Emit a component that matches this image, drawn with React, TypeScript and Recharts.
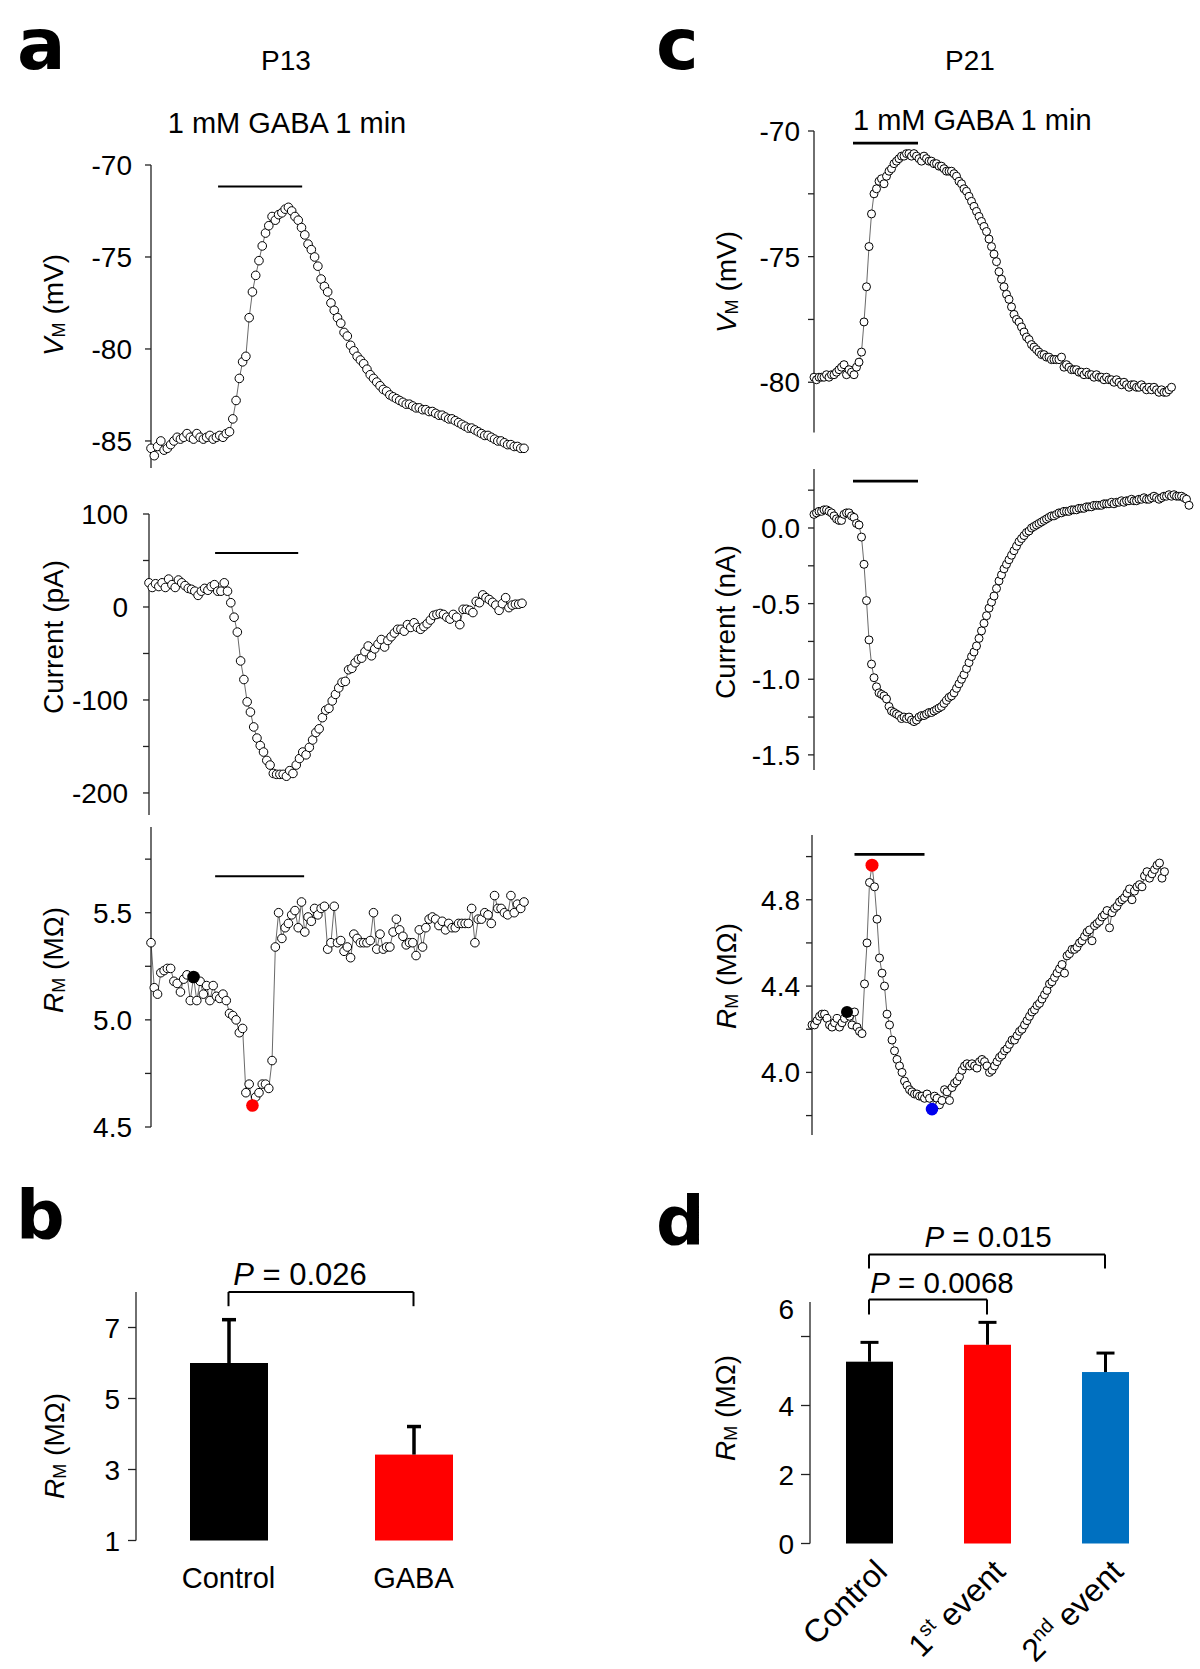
import React from 'react'
import { ComposedChart, Line, Scatter, XAxis, YAxis, ReferenceLine, BarChart, Bar } from 'recharts'

const FONT = '"Liberation Sans", Arial, Helvetica, sans-serif'
const LETTER_FONT = '"DejaVu Sans", "Liberation Sans", Arial, sans-serif'

// ---- panel a (P13): one sample per index, same time base for all three traces
const VM_A = [
  -85.4, -85.8, -85.3, -85.0, -85.5, -85.4, -85.2, -85.0, -84.8, -84.9,
  -84.8, -84.6, -84.8, -84.9, -84.6, -84.8, -84.9, -84.8, -84.7, -84.9,
  -84.8, -84.7, -84.8, -84.6, -84.5, -83.8, -82.8, -81.6, -80.7, -80.4,
  -78.3, -76.9, -76.0, -75.2, -74.4, -73.7, -73.3, -72.8, -73.0, -72.7,
  -72.6, -72.4, -72.3, -72.5, -72.8, -73.0, -73.4, -73.8, -74.3, -74.6,
  -75.0, -75.5, -76.2, -76.6, -76.9, -77.5, -77.9, -78.3, -78.6, -79.1,
  -79.3, -79.8, -80.1, -80.4, -80.6, -80.8, -81.1, -81.4, -81.6, -81.8,
  -82.0, -82.2, -82.3, -82.5, -82.6, -82.7, -82.8, -82.9, -83.0, -83.0,
  -83.1, -83.2, -83.2, -83.3, -83.3, -83.4, -83.4, -83.5, -83.6, -83.6,
  -83.7, -83.8, -83.8, -83.9, -84.0, -84.1, -84.2, -84.3, -84.3, -84.4,
  -84.5, -84.6, -84.7, -84.7, -84.8, -84.9, -85.0, -85.0, -85.1, -85.2,
  -85.2, -85.3, -85.3, -85.4, -85.4,
]

const I_A = [
  26, 21, 25, 22, 26, 21, 30, 24, 21, 29,
  26, 23, 20, 19, 17, 12.5, 17, 20, 18, 22,
  24, 17, 17, 26, 17,
  4.6, -11, -27, -58, -78, -102, -113, -129, -141, -149,
  -156, -165, -170, -179, -180, -180, -180, -182, -176, -179,
  -170, -163, -156, -159, -151, -143, -135, -131, -119, -111,
  -109, -101, -94, -87, -81, -80, -67.5, -66, -60, -56,
  -55, -48, -42, -52.5, -45, -40, -35, -43, -36, -32,
  -28, -24, -24, -26, -19, -22, -17, -22, -24, -21,
  -18, -14, -9, -8, -7, -8, -11, -13, -8, -11,
  -19, -2.5, -2.5, -3.6, -6, 6, 4.6, 13, 10, 8,
  5, 2, -3.6, 3.6, 10, -0.7, 2, 3, 3, 4,
]

const RM_A = [
  5.36, 5.15, 5.12, 5.22, 5.23, 5.24, 5.24, 5.18, 5.17, 5.13,
  5.19, 5.21, 5.09, 5.20, 5.09, 5.18, 5.12, 5.16, 5.09, 5.16,
  5.11, 5.10, 5.12, 5.09, 5.03, 5.02, 5.00, 4.94, 4.96, 4.66,
  4.70, 4.60, 4.64, 4.66, 4.70, 4.70, 4.68, 4.81, 5.34, 5.50,
  5.38, 5.43, 5.45, 5.49, 5.51, 5.43, 5.55, 5.41, 5.48, 5.46,
  5.52, 5.49, 5.52, 5.53, 5.33, 5.36, 5.53, 5.36, 5.37, 5.32,
  5.34, 5.29, 5.40, 5.38, 5.36, 5.36, 5.36, 5.37, 5.50, 5.33,
  5.40, 5.33, 5.34, 5.34, 5.41, 5.47, 5.42, 5.39, 5.35, 5.36,
  5.36, 5.30, 5.42, 5.34, 5.43, 5.47, 5.48, 5.47, 5.44, 5.46,
  5.42, 5.45, 5.43, 5.43, 5.45, 5.45, 5.45, 5.45, 5.52, 5.36,
  5.47, 5.47, 5.50, 5.49, 5.45, 5.58, 5.52, 5.52, 5.50, 5.49,
  5.58, 5.50, 5.54, 5.52, 5.55,
]
const RM_A_CONTROL = 13
const RM_A_GABA = 31

// GABA application bars: [start sample, end sample, level]
const STIM_VM_A = [20.5, 46.2, -71.17]
const STIM_I_A = [20.2, 45.6, 58]
const STIM_RM_A = [19.6, 46.8, 5.67]

// ---- panel c (P21)
const VM_C = [
  -79.8, -79.9, -79.8, -79.8, -79.8, -79.7, -79.8, -79.7, -79.7, -79.6,
  -79.5, -79.4, -79.3, -79.7, -79.5, -79.6, -79.7, -79.4, -79.2, -78.8,
  -77.6, -76.2, -74.6, -73.3, -72.5, -72.3, -72.0, -71.9, -72.1, -71.8,
  -71.6, -71.5, -71.3, -71.2, -71.1, -71.0, -71.0, -70.9, -70.9, -71.0,
  -70.9, -71.0, -71.1, -71.2, -71.0, -71.1, -71.2, -71.2, -71.3, -71.3,
  -71.4, -71.4, -71.5, -71.6, -71.6, -71.6, -71.7, -71.8, -72.0, -72.1,
  -72.3, -72.4, -72.6, -72.8, -73.0, -73.2, -73.4, -73.6, -73.8, -74.0,
  -74.3, -74.6, -74.9, -75.2, -75.6, -75.9, -76.2, -76.5, -76.7, -77.0,
  -77.3, -77.5, -77.6, -77.8, -78.0, -78.2, -78.3, -78.5, -78.6, -78.7,
  -78.8, -78.9, -78.9, -79.0, -79.0, -79.1, -79.1, -79.1, -79.1, -79.0,
  -79.4, -79.3, -79.4, -79.5, -79.5, -79.5, -79.6, -79.6, -79.7, -79.6,
  -79.7, -79.7, -79.8, -79.7, -79.8, -79.8, -79.9, -79.8, -79.9, -79.9,
  -80.0, -79.9, -80.0, -80.1, -80.0, -80.1, -80.2, -80.1, -80.1, -80.2,
  -80.2, -80.1, -80.2, -80.3, -80.2, -80.3, -80.2, -80.3, -80.4, -80.3,
  -80.4, -80.4, -80.3, -80.2,
]

const I_C = [
  0.09, 0.10, 0.11, 0.11, 0.12, 0.12, 0.11, 0.10, 0.08, 0.06,
  0.05, 0.05, 0.09, 0.10, 0.10, 0.08, 0.07, 0.03, 0.02,
  -0.06, -0.24, -0.48, -0.74, -0.90, -0.99, -1.05, -1.09, -1.10, -1.11,
  -1.13, -1.18, -1.21, -1.22, -1.23, -1.24, -1.26, -1.25, -1.26, -1.25,
  -1.27, -1.28, -1.27, -1.25, -1.24, -1.24, -1.23, -1.22, -1.22, -1.21,
  -1.20, -1.19, -1.18, -1.16, -1.14, -1.12, -1.11, -1.09, -1.06, -1.03,
  -1.00, -0.97, -0.93, -0.89, -0.85, -0.82, -0.78, -0.73, -0.68, -0.63,
  -0.58, -0.53, -0.49, -0.45, -0.40, -0.35, -0.31, -0.27, -0.24, -0.21,
  -0.18, -0.15, -0.12, -0.09, -0.07, -0.05, -0.03, -0.02, 0.00, 0.01,
  0.02, 0.03, 0.04, 0.05, 0.06, 0.07, 0.08, 0.08, 0.09, 0.10,
  0.10, 0.11,
  0.11, 0.11, 0.12, 0.12, 0.12, 0.13, 0.13, 0.13, 0.14, 0.14,
  0.14, 0.15, 0.15, 0.15, 0.15, 0.16, 0.16, 0.16, 0.17, 0.16,
  0.17, 0.17, 0.18, 0.17, 0.18, 0.18, 0.19, 0.18, 0.18, 0.19,
  0.19, 0.20, 0.19, 0.19, 0.20, 0.21, 0.20, 0.19, 0.20, 0.21,
  0.21, 0.22, 0.21, 0.22, 0.21, 0.21, 0.21, 0.20, 0.19, 0.15,
]

const RM_C = [
  4.22, 4.22, 4.24, 4.26, 4.27, 4.27, 4.25, 4.22, 4.21, 4.23,
  4.25, 4.21, 4.23, 4.25, 4.28, 4.26, 4.22, 4.28, 4.21, 4.19,
  4.18, 4.41, 4.60, 4.88, 4.96, 4.86, 4.71, 4.53, 4.46, 4.40,
  4.27, 4.22, 4.15, 4.10, 4.06, 4.03, 4.00, 3.96, 3.94, 3.92,
  3.91, 3.90, 3.90, 3.89, 3.89, 3.88, 3.90, 3.88, 3.83, 3.89,
  3.88, 3.85, 3.87, 3.92, 3.91, 3.87, 3.93, 3.95, 3.96, 3.98,
  4.01, 4.03, 4.04, 4.03, 4.04, 4.03, 4.02, 4.05, 4.06, 4.05,
  4.03, 4.00, 4.01, 4.03, 4.05, 4.07, 4.08, 4.10, 4.11, 4.13,
  4.15, 4.15, 4.17, 4.19, 4.20, 4.22, 4.24, 4.26, 4.28, 4.29,
  4.31, 4.32, 4.34, 4.36, 4.38, 4.41, 4.42, 4.44, 4.46, 4.48,
  4.50, 4.46, 4.54, 4.55, 4.57, 4.57, 4.58, 4.60, 4.61, 4.63,
  4.65, 4.66, 4.61, 4.68, 4.69, 4.70, 4.72, 4.73, 4.75, 4.67,
  4.74, 4.76, 4.77, 4.79, 4.80, 4.81, 4.83, 4.85, 4.80, 4.84,
  4.86, 4.87, 4.86, 4.91, 4.93, 4.90, 4.92, 4.94, 4.96, 4.97,
  4.90, 4.93,
]
const RM_C_CONTROL = 14
const RM_C_FIRST = 24
const RM_C_SECOND = 48

const STIM_VM_C = [15.6, 41.6, -70.48]
const STIM_I_C = [15.6, 41.6, 0.31]
const STIM_RM_C = [17, 45, 5.01]

// ---- panel b / d summary bars (mean + s.e.m.)
const B_CATS = ['Control', 'GABA']
const B_MEAN = [6.0, 3.42]
const B_SEM = [1.22, 0.79]
const B_P = '0.026'

const D_CATS = ['Control', '1st event', '2nd event']
const D_MEAN = [5.27, 5.76, 4.97]
const D_SEM = [0.56, 0.65, 0.55]
const D_P_FIRST = '0.0068'
const D_P_SECOND = '0.015'

interface Mark { idx: number; fill: string; r: number }

interface TraceProps {
  values: number[]
  axisX: number
  plotTop: number
  plotBottom: number
  plotWidth: number
  xMax: number
  yDomain: [number, number]
  ticks: number[]
  major: number[]
  decimals: number
  labelGap: number
  stim: number[]
  stimWidth: number
  r: number
  marks?: Mark[]
}

function Trace(p: TraceProps) {
  const data = p.values.map((v, t) => ({ t, v }))
  const yw = 90
  const m = { top: 24, right: 14, bottom: 24, left: 0 }
  const tickSize = 6

  const renderTick = (tp: any) => {
    const v = tp.payload.value
    if (!p.major.some(mv => Math.abs(mv - v) < 1e-9)) return <g />
    return (
      <text x={tp.x} y={tp.y} dy="0.36em" textAnchor="end" fontSize={28} fontFamily={FONT} fill="#000">
        {v.toFixed(p.decimals)}
      </text>
    )
  }
  const openDot = (d: any) => (
    <circle key={`o${d.index}`} cx={d.cx} cy={d.cy} r={p.r} fill="#fff" stroke="#000" strokeWidth={1} />
  )

  return (
    <div style={{ position: 'absolute', left: p.axisX - yw, top: p.plotTop - m.top }}>
      <ComposedChart
        width={yw + p.plotWidth + m.right}
        height={p.plotBottom - p.plotTop + m.top + m.bottom}
        data={data}
        margin={m}
      >
        <XAxis dataKey="t" type="number" domain={[0, p.xMax]} hide height={0} />
        <YAxis
          dataKey="v"
          type="number"
          domain={p.yDomain}
          ticks={p.ticks}
          interval={0}
          width={yw}
          tickSize={tickSize}
          tickMargin={p.labelGap - tickSize}
          tick={renderTick}
          axisLine={{ stroke: '#222', strokeWidth: 1.3 }}
          tickLine={{ stroke: '#222', strokeWidth: 1.3 }}
        />
        <ReferenceLine
          segment={[{ x: p.stim[0], y: p.stim[2] }, { x: p.stim[1], y: p.stim[2] }]}
          stroke="#000"
          strokeWidth={p.stimWidth}
          ifOverflow="visible"
        />
        <Line dataKey="v" stroke="#444" strokeWidth={0.8} dot={openDot} activeDot={false} isAnimationActive={false} />
        {(p.marks || []).map(mk => (
          <Scatter
            key={mk.idx}
            data={[{ t: mk.idx, v: p.values[mk.idx] }]}
            dataKey="v"
            isAnimationActive={false}
            shape={(s: any) => <circle cx={s.cx} cy={s.cy} r={mk.r} fill={mk.fill} />}
          />
        ))}
      </ComposedChart>
    </div>
  )
}

const errBarShape = (base: number, fills: string[], capW: number, lw: number) => (bp: any) => {
  const { x, y, width, height, payload, index } = bp
  const k = height / (payload.mean - base)
  const cx = x + width / 2
  const top = y - payload.sem * k
  return (
    <g>
      <rect x={x} y={y} width={width} height={height} fill={fills[index]} />
      <line x1={cx} x2={cx} y1={y} y2={top} stroke="#000" strokeWidth={lw} />
      <line x1={cx - capW / 2} x2={cx + capW / 2} y1={top} y2={top} stroke="#000" strokeWidth={lw} />
    </g>
  )
}

const axisStyle = { stroke: '#222', strokeWidth: 1.3 }

function PanelB() {
  const data = B_CATS.map((name, i) => ({ name, mean: B_MEAN[i], sem: B_SEM[i] }))
  const fills = ['#000000', '#ff0000']
  const yTick = (tp: any) => (
    <text x={tp.x} y={tp.y} dy="0.36em" textAnchor="end" fontSize={28} fontFamily={FONT} fill="#000">
      {tp.payload.value}
    </text>
  )
  const xTick = (tp: any) => (
    <text x={tp.x} y={tp.y + 47} textAnchor="middle" fontSize={29} fontFamily={FONT} fill="#000">
      {tp.payload.value}
    </text>
  )
  const br = { stroke: '#000', strokeWidth: 2, ifOverflow: 'visible' as const }
  return (
    <div style={{ position: 'absolute', left: 136 - 60, top: 1291.5 - 10 }}>
      <BarChart width={440} height={10 + 248.5 + 80} data={data} margin={{ top: 10, right: 10, bottom: 0, left: 0 }}>
        <XAxis dataKey="name" type="category" axisLine={false} tickLine={false} tickSize={0} tickMargin={0} height={80} tick={xTick} interval={0} />
        <YAxis type="number" domain={[1, 8]} ticks={[1, 3, 5, 7]} interval={0} width={60} tickSize={8} tickMargin={8} tick={yTick} axisLine={axisStyle} tickLine={axisStyle} />
        <Bar dataKey="mean" barSize={78} isAnimationActive={false} shape={errBarShape(1, fills, 14, 3.5)} />
        <ReferenceLine segment={[{ x: 'Control', y: 8 }, { x: 'GABA', y: 8 }]} {...br} />
        <ReferenceLine segment={[{ x: 'Control', y: 8 }, { x: 'Control', y: 7.6 }]} {...br} />
        <ReferenceLine segment={[{ x: 'GABA', y: 8 }, { x: 'GABA', y: 7.6 }]} {...br} />
      </BarChart>
    </div>
  )
}

function PanelD() {
  const data = D_CATS.map((name, i) => ({ name, mean: D_MEAN[i], sem: D_SEM[i] }))
  const fills = ['#000000', '#ff0000', '#0070c0']
  const yTick = (tp: any) => (
    <text x={tp.x} y={tp.y + (tp.payload.value === 6 ? -28 : 0)} dy="0.36em" textAnchor="end" fontSize={28} fontFamily={FONT} fill="#000">
      {tp.payload.value}
    </text>
  )
  const xTick = (tp: any) => {
    const label: string = tp.payload.value
    const mt = label.match(/^(\d)(st|nd|rd|th) (.*)$/)
    const ax = tp.x + 20
    const ay = tp.y + 30
    return (
      <text x={ax} y={ay} transform={`rotate(-45, ${ax}, ${ay})`} textAnchor="end" fontSize={32} fontFamily={FONT} fill="#000">
        {mt ? (
          <>
            <tspan>{mt[1]}</tspan>
            <tspan fontSize={20} dy={-12}>{mt[2]}</tspan>
            <tspan dy={12}>{' ' + mt[3]}</tspan>
          </>
        ) : label}
      </text>
    )
  }
  const br = { stroke: '#000', strokeWidth: 2, ifOverflow: 'visible' as const }
  return (
    <div style={{ position: 'absolute', left: 810 - 60, top: 1301.5 - 60 }}>
      <BarChart width={60 + 354 + 20} height={60 + 241.5 + 127} data={data} margin={{ top: 60, right: 20, bottom: 0, left: 0 }}>
        <XAxis dataKey="name" type="category" axisLine={false} tickLine={false} tickSize={0} tickMargin={0} height={127} tick={xTick} interval={0} />
        <YAxis type="number" domain={[0, 7]} ticks={[0, 2, 4, 6]} interval={0} width={60} tickSize={9} tickMargin={7} tick={yTick} axisLine={axisStyle} tickLine={axisStyle} />
        <Bar dataKey="mean" barSize={47} isAnimationActive={false} shape={errBarShape(0, fills, 18, 3)} />
        <ReferenceLine segment={[{ x: 'Control', y: 7.07 }, { x: '1st event', y: 7.07 }]} {...br} />
        <ReferenceLine segment={[{ x: 'Control', y: 7.07 }, { x: 'Control', y: 6.64 }]} {...br} />
        <ReferenceLine segment={[{ x: '1st event', y: 7.07 }, { x: '1st event', y: 6.64 }]} {...br} />
        <ReferenceLine segment={[{ x: 'Control', y: 8.38 }, { x: '2nd event', y: 8.38 }]} {...br} />
        <ReferenceLine segment={[{ x: 'Control', y: 8.38 }, { x: 'Control', y: 7.97 }]} {...br} />
        <ReferenceLine segment={[{ x: '2nd event', y: 8.38 }, { x: '2nd event', y: 7.97 }]} {...br} />
      </BarChart>
    </div>
  )
}

function YLabel({ x, y, sym, italic, unit }: { x: number; y: number; sym?: string; italic?: boolean; unit: string }) {
  return (
    <text transform={`translate(${x}, ${y}) rotate(-90)`} textAnchor="middle" dominantBaseline="central" fontSize={28} fontFamily={FONT} fill="#000">
      {sym ? (
        <>
          <tspan fontStyle={italic ? 'italic' : 'normal'}>{sym}</tspan>
          <tspan fontSize={18} dy={6}>M</tspan>
          <tspan dy={-6}>{' ' + unit}</tspan>
        </>
      ) : unit}
    </text>
  )
}

function Overlay() {
  const t = { fontFamily: FONT, fill: '#000' }
  const L = { fontFamily: LETTER_FONT, fontWeight: 'bold' as const, fill: '#000' }
  return (
    <svg width={1200} height={1669} style={{ position: 'absolute', left: 0, top: 0, pointerEvents: 'none' }}>
      <text x={17} y={69} fontSize={72} {...L}>a</text>
      <text x={656} y={69} fontSize={72} {...L}>c</text>
      <text x={16} y={1239} fontSize={68} {...L}>b</text>
      <text x={656} y={1245} fontSize={68} {...L}>d</text>

      <text x={286} y={70} fontSize={28} textAnchor="middle" {...t}>P13</text>
      <text x={287} y={133} fontSize={29} textAnchor="middle" {...t}>1 mM GABA 1 min</text>
      <text x={970} y={70} fontSize={28} textAnchor="middle" {...t}>P21</text>
      <text x={853} y={130} fontSize={29} {...t}>1 mM GABA 1 min</text>

      <YLabel x={53} y={305} sym="V" italic unit="(mV)" />
      <YLabel x={53} y={637} unit="Current (pA)" />
      <YLabel x={53} y={960} sym="R" italic unit="(MΩ)" />
      <YLabel x={726} y={282} sym="V" italic unit="(mV)" />
      <YLabel x={725} y={622} unit="Current (nA)" />
      <YLabel x={726} y={976} sym="R" italic unit="(MΩ)" />
      <YLabel x={54} y={1446} sym="R" italic unit="(MΩ)" />
      <YLabel x={725} y={1408} sym="R" italic unit="(MΩ)" />

      <text x={300} y={1285} fontSize={31} textAnchor="middle" {...t}>
        <tspan fontStyle="italic">P</tspan> = {B_P}
      </text>
      <text x={942} y={1293} fontSize={29.5} textAnchor="middle" {...t}>
        <tspan fontStyle="italic">P</tspan> = {D_P_FIRST}
      </text>
      <text x={988} y={1247} fontSize={29.5} textAnchor="middle" {...t}>
        <tspan fontStyle="italic">P</tspan> = {D_P_SECOND}
      </text>
    </svg>
  )
}

export default function App() {
  return (
    <div style={{ position: 'absolute', left: 0, top: 0, width: 1200, height: 1669, background: '#fff', fontFamily: FONT }}>
      <Trace values={VM_A} axisX={151} plotTop={165} plotBottom={468} plotWidth={373} xMax={114}
        yDomain={[-86.47, -70]} ticks={[-85, -80, -75, -70]} major={[-85, -80, -75, -70]} decimals={0}
        labelGap={19} stim={STIM_VM_A} stimWidth={2} r={4.3} />
      <Trace values={I_A} axisX={149} plotTop={514} plotBottom={815} plotWidth={373} xMax={114}
        yDomain={[-223.7, 100]} ticks={[-200, -150, -100, -50, 0, 50, 100]} major={[-200, -100, 0, 100]} decimals={0}
        labelGap={21} stim={STIM_I_A} stimWidth={2} r={4.3} />
      <Trace values={RM_A} axisX={151} plotTop={827} plotBottom={1127} plotWidth={373} xMax={114}
        yDomain={[4.5, 5.9]} ticks={[4.5, 4.75, 5, 5.25, 5.5, 5.75]} major={[4.5, 5, 5.5]} decimals={1}
        labelGap={19} stim={STIM_RM_A} stimWidth={2} r={4.3}
        marks={[{ idx: RM_A_CONTROL, fill: '#000', r: 6.3 }, { idx: RM_A_GABA, fill: '#ff0000', r: 6.3 }]} />

      <Trace values={VM_C} axisX={814} plotTop={130.5} plotBottom={432} plotWidth={375} xMax={150}
        yDomain={[-82, -70]} ticks={[-80, -77.5, -75, -72.5, -70]} major={[-80, -75, -70]} decimals={0}
        labelGap={14} stim={STIM_VM_C} stimWidth={2.8} r={4} />
      <Trace values={I_C} axisX={814} plotTop={469} plotBottom={770} plotWidth={375} xMax={150}
        yDomain={[-1.6, 0.39]} ticks={[-1.5, -1.25, -1, -0.75, -0.5, -0.25, 0, 0.25]} major={[-1.5, -1, -0.5, 0]} decimals={1}
        labelGap={14} stim={STIM_I_C} stimWidth={2.8} r={4} />
      <Trace values={RM_C} axisX={812} plotTop={835} plotBottom={1135} plotWidth={375} xMax={150}
        yDomain={[3.71, 5.1]} ticks={[3.8, 4, 4.2, 4.4, 4.6, 4.8, 5]} major={[4, 4.4, 4.8]} decimals={1}
        labelGap={12} stim={STIM_RM_C} stimWidth={2.8} r={4}
        marks={[
          { idx: RM_C_CONTROL, fill: '#000', r: 6 },
          { idx: RM_C_FIRST, fill: '#ff0000', r: 6.5 },
          { idx: RM_C_SECOND, fill: '#0000ee', r: 6.3 },
        ]} />

      <PanelB />
      <PanelD />
      <Overlay />
    </div>
  )
}
